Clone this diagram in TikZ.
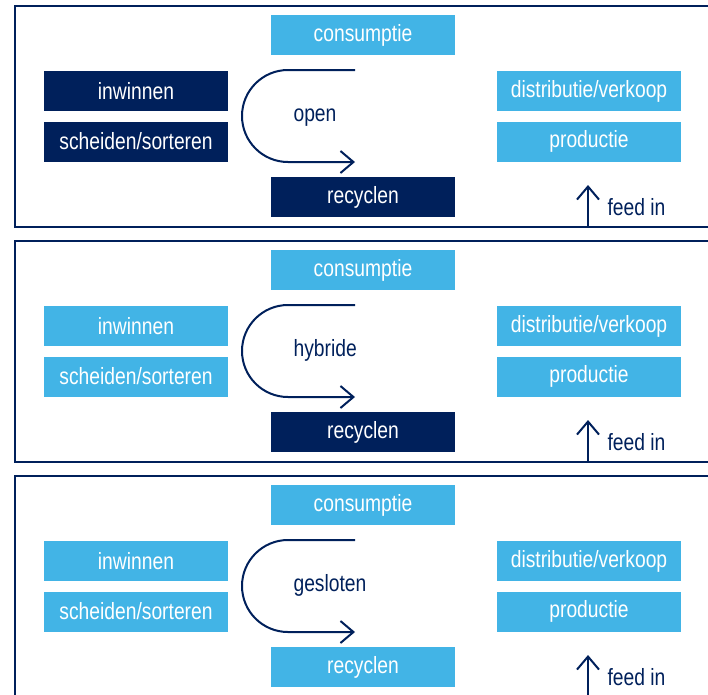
\documentclass[tikz,border=0pt]{standalone}
\usepackage{fontspec}
\setmainfont[FakeStretch=0.82]{Liberation Sans}
\usetikzlibrary{positioning, arrows.meta}
\definecolor{navy}{RGB}{0,32,91}
\definecolor{sky}{RGB}{66,180,230}

\begin{document}
\begin{tikzpicture}[x=1pt, y=-1pt, >={Straight Barb[length=13pt, width=22pt]}, on grid,
    box/.style={minimum width=184pt, minimum height=40pt, inner sep=0pt, text=white},
    flow/.style={draw=navy, line width=2pt},
    every node/.style={font=\fontsize{23.5}{27}\selectfont}]
  \useasboundingbox (0,0) rectangle (708,694);
  \clip (0,0) rectangle (708,694);
  \foreach \lbl/\colA/\colB [count=\i from 0] in {open/navy/navy, hybride/sky/navy, gesloten/sky/sky} {
    \begin{scope}[shift={(0,{235*\i})}]
      \draw[navy, line width=2pt] (15,6) rectangle (730,227);
      \node[box, fill=sky] (cons) at (363,35) {consumptie};
      \node[box, fill=\colB, below=162pt of cons] (recy) {recyclen};
      \node[box, fill=\colA] (inw) at (136,91) {inwinnen};
      \node[box, fill=\colA, below=50.5pt of inw] (sch) {scheiden/sorteren};
      \node[box, fill=sky] (dist) at (589,91) {distributie/verkoop};
      \node[box, fill=sky, below=50.5pt of dist] (prod) {productie};
      % loop arrow with its label
      \coordinate (lp-in) at (355,70);
      \coordinate (lp-out) at (355,162);
      \draw[flow, ->] (lp-in) -- (288,70) arc[start angle=270, end angle=90, radius=46] -- (lp-out);
      \node[text=navy, anchor=base west] (kind) at (290,121.5) {\lbl};
      % feed in
      \coordinate (feed-bot) at (588,227);
      \coordinate (feed-top) at (588,185);
      \draw[flow, ->] (feed-bot) -- (feed-top);
      \node[text=navy, anchor=base west] (feed) at (604,215.5) {feed in};
    \end{scope}
  }
\end{tikzpicture}
\end{document}
